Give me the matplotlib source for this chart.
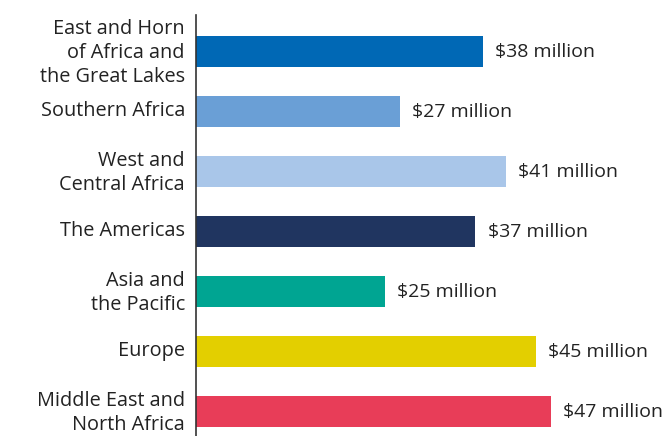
import matplotlib

matplotlib.use("Agg")
import matplotlib.pyplot as plt
from matplotlib.transforms import ScaledTranslation

plt.rcParams["font.family"] = ["Open Sans", "DejaVu Sans"]

regions = [
    "East and Horn\nof Africa and\nthe Great Lakes",
    "Southern Africa",
    "West and\nCentral Africa",
    "The Americas",
    "Asia and\nthe Pacific",
    "Europe",
    "Middle East and\nNorth Africa",
]
funding_musd = [38, 27, 41, 37, 25, 45, 47]
bar_colors = ["#0068b5", "#6a9fd6", "#a9c6e9", "#203560", "#00a592", "#e3cf00", "#e83d58"]

fig = plt.figure(figsize=(6.67, 4.36), dpi=100)
ax = fig.add_axes([196 / 667, 0.0, 1 - 196 / 667, 1 - 15 / 436])

ypos = list(range(len(regions)))
ax.barh(ypos, funding_musd, height=0.52, color=bar_colors)

for y, v in zip(ypos, funding_musd):
    ax.annotate(f"${v} million", xy=(v, y), xytext=(9, 0), textcoords="offset points",
                va="center", ha="left", fontsize=14, color="#222222")

ax.set_yticks(ypos)
ax.set_yticklabels(regions, fontsize=14.3, color="#222222", linespacing=1.26)
ax.tick_params(axis="y", length=0, pad=8)
# nudge the region names up a touch so the last one clears the bottom edge
lift = ScaledTranslation(0, 3 / 100, fig.dpi_scale_trans)
for lbl in ax.get_yticklabels():
    lbl.set_transform(lbl.get_transform() + lift)
ax.set_xticks([])
ax.set_xlim(0, 471 / 7.55)
ax.set_ylim(6 + 24.5 / 60, -36.5 / 60)

for side in ("top", "right", "bottom"):
    ax.spines[side].set_visible(False)
ax.spines["left"].set_color("#333333")
ax.spines["left"].set_linewidth(1.2)

fig.savefig("out.png", dpi=100)
